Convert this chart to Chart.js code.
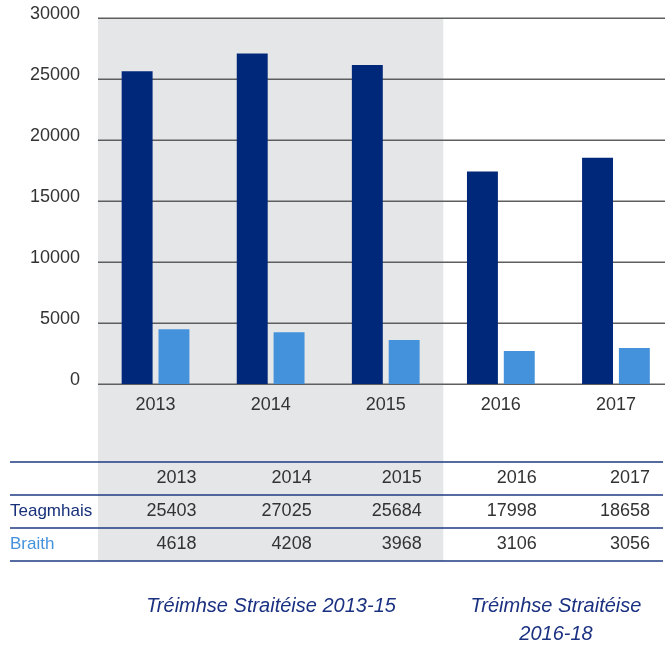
<!DOCTYPE html>
<html>
<head>
<meta charset="utf-8">
<script src="https://cdn.jsdelivr.net/npm/chart.js@4.4.1/dist/chart.umd.min.js"></script>
<style>
  html, body { margin: 0; padding: 0; background: #fff; overflow: hidden; width: 667px; height: 647px; }
  #wrap { position: relative; width: 680px; height: 647px; }
  canvas { display: block; }
</style>
</head>
<body>
<div id="wrap"><canvas id="c" width="680" height="647"></canvas></div>
<script>
// ---- data ----
const categories = ['2013', '2014', '2015', '2016', '2017'];
// bar heights
const teagmhaisBars = [25630, 27100, 26150, 17420, 18550];
const braithBars = [4490, 4250, 3600, 2700, 2950];
// values printed in the table
const teagmhaisTable = ['25403', '27025', '25684', '17998', '18658'];
const braithTable = ['4618', '4208', '3968', '3106', '3056'];
const seriesNames = ['Teagmhais', 'Braith'];
const yTicks = [0, 5000, 10000, 15000, 20000, 25000, 30000];
const periodLabels = [['Tréimhse Straitéise 2013-15'], ['Tréimhse Straitéise', '2016-18']];

const DARK = '#00287a';
const LIGHT = '#4592dc';
const BAND = '#e5e6e8';
const GRID = '#5e5e5e';
const NAVY_LINE = '#1e3a82';
const FONT = '"Liberation Sans", Arial, sans-serif';

const GRID_RIGHT = 665;
const TABLE_LEFT = 10, TABLE_RIGHT = 663;
const tableLines = [462, 495, 528, 561];
const tableColShift = [41, 41, 36, 36, 34];

const layoutPlugin = {
  id: 'layoutPlugin',
  beforeDraw(chart) {
    const ctx = chart.ctx;
    const x = chart.scales.x, y = chart.scales.y;
    const bandLeft = chart.chartArea.left;
    const bandRight = x.getPixelForValue(2) + (x.getPixelForValue(1) - x.getPixelForValue(0)) / 2;
    const top = y.getPixelForValue(30000);
    ctx.save();
    ctx.fillStyle = BAND;
    ctx.fillRect(bandLeft, top, bandRight - bandLeft, tableLines[3] - top);
    ctx.restore();
  },
  beforeDatasetsDraw(chart) {
    const ctx = chart.ctx;
    const y = chart.scales.y;
    ctx.save();
    ctx.strokeStyle = GRID;
    ctx.lineWidth = 1.6;
    y.ticks.forEach(t => {
      const py = Math.round(y.getPixelForValue(t.value)) + 0.3;
      ctx.beginPath();
      ctx.moveTo(chart.chartArea.left, py);
      ctx.lineTo(GRID_RIGHT, py);
      ctx.stroke();
    });
    ctx.restore();
  },
  afterDraw(chart) {
    const ctx = chart.ctx;
    const x = chart.scales.x;
    ctx.save();
    ctx.strokeStyle = NAVY_LINE;
    ctx.lineWidth = 1.5;
    tableLines.forEach(ly => {
      ctx.beginPath();
      ctx.moveTo(TABLE_LEFT, ly);
      ctx.lineTo(TABLE_RIGHT, ly);
      ctx.stroke();
    });
    const rowY = [478, 511, 544];
    ctx.textBaseline = 'middle';
    ctx.font = '18px ' + FONT;
    ctx.fillStyle = '#333';
    ctx.textAlign = 'right';
    categories.forEach((c, i) => {
      const px = x.getPixelForValue(i) + tableColShift[i];
      ctx.fillText(c, px, rowY[0]);
      ctx.fillText(teagmhaisTable[i], px, rowY[1]);
      ctx.fillText(braithTable[i], px, rowY[2]);
    });
    ctx.textAlign = 'left';
    ctx.font = '17px ' + FONT;
    ctx.fillStyle = '#16307a';
    ctx.fillText(seriesNames[0], TABLE_LEFT, rowY[1]);
    ctx.fillStyle = LIGHT;
    ctx.fillText(seriesNames[1], TABLE_LEFT, rowY[2]);
    ctx.font = 'italic 20px ' + FONT;
    ctx.fillStyle = '#1a3080';
    ctx.textAlign = 'center';
    ctx.fillText(periodLabels[0][0], 271, 606);
    ctx.fillText(periodLabels[1][0], 556, 606);
    ctx.fillText(periodLabels[1][1], 556, 634);
    ctx.restore();
  }
};

new Chart(document.getElementById('c'), {
  type: 'bar',
  data: {
    labels: categories,
    datasets: [
      { label: seriesNames[0], data: teagmhaisBars, backgroundColor: DARK, barPercentage: 0.84, categoryPercentage: 0.64 },
      { label: seriesNames[1], data: braithBars, backgroundColor: LIGHT, barPercentage: 0.84, categoryPercentage: 0.64 }
    ]
  },
  options: {
    responsive: false,
    animation: false,
    devicePixelRatio: 1,
    layout: { padding: { top: 18, right: 6.5, bottom: 233, left: 0 } },
    plugins: { legend: { display: false }, tooltip: { enabled: false } },
    scales: {
      x: {
        grid: { display: false, drawTicks: false },
        border: { display: false },
        ticks: { color: '#333', font: { family: FONT, size: 18 }, padding: 10 },
        afterFit(s) { s.height = 30; s.paddingLeft = 0; s.paddingRight = 0; }
      },
      y: {
        min: 0, max: 30000,
        grid: { display: false, drawTicks: false },
        border: { display: false },
        afterBuildTicks(s) { s.ticks = yTicks.map(v => ({ value: v })); },
        ticks: { color: '#333', font: { family: FONT, size: 18 }, padding: 18, labelOffset: -4, callback: v => String(v) },
        afterFit(s) { s.width = 98; s.paddingTop = 0; s.paddingBottom = 0; }
      }
    }
  },
  plugins: [layoutPlugin]
});
</script>
</body>
</html>
